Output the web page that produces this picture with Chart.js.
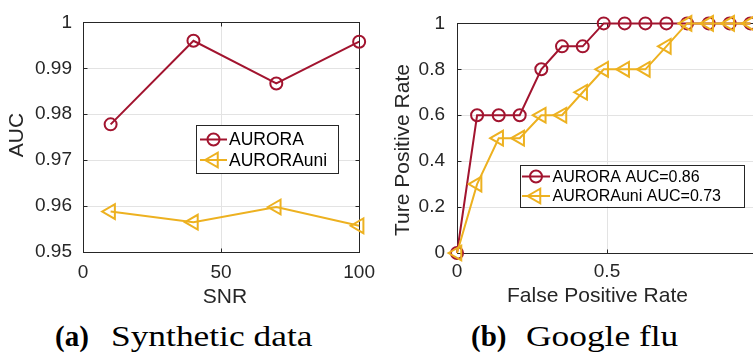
<!DOCTYPE html>
<html>
<head>
<meta charset="utf-8">
<script src="https://cdn.jsdelivr.net/npm/chart.js@4.4.0/dist/chart.umd.min.js"></script>
<style>
  html, body { margin: 0; padding: 0; width: 753px; height: 354px; overflow: hidden; background: #fff; }
  canvas { position: absolute; top: 0; }
  #chartA { left: 0; }
  #chartB { left: 380px; }
  .cap { position: absolute; top: 322px; font-family: "Liberation Serif", "Times New Roman", serif;
         font-size: 29px; line-height: 29px; color: #000; white-space: nowrap; }
  .cap.txt { transform: scaleX(1.22); transform-origin: 0 0; }
</style>
</head>
<body>
<canvas id="chartA" width="384" height="310"></canvas>
<canvas id="chartB" width="390" height="310"></canvas>
<div class="cap" style="left:55px;"><b>(a)</b></div>
<div class="cap txt" style="left:111px;">Synthetic data</div>
<div class="cap" style="left:471px;"><b>(b)</b></div>
<div class="cap txt" style="left:526px;">Google flu</div>

<script>
// (a) Synthetic data
const snr = [10, 40, 70, 100];
const aucAurora = [0.9778, 0.9960, 0.9867, 0.9958];
const aucAuroraUni = [0.9588, 0.9565, 0.9598, 0.9557];
const snrTicks = [0, 50, 100];
const aucTicks = [0.95, 0.96, 0.97, 0.98, 0.99, 1];

// (b) Google flu ROC
const fpr = [0, 0.067, 0.139, 0.209, 0.281, 0.35, 0.419, 0.489, 0.559, 0.628, 0.698, 0.767, 0.839, 0.909, 0.978];
const tprAurora = [0, 0.6, 0.6, 0.6, 0.8, 0.9, 0.9, 1, 1, 1, 1, 1, 1, 1, 1];
const tprAuroraUni = [0, 0.3, 0.5, 0.5, 0.6, 0.6, 0.7, 0.8, 0.8, 0.8, 0.9, 1, 1, 1, 1];
const fprTicks = [0, 0.5, 1];
const tprTicks = [0, 0.2, 0.4, 0.6, 0.8, 1];

const legendA = ['AURORA', 'AURORAuni'];
const legendB = ['AURORA AUC=0.86', 'AURORAuni AUC=0.73'];

const RED = '#A2142F';
const YELLOW = '#EDB120';
const AXIS = '#262626';
const GRID = '#e3e3e3';
const SANS = "'Liberation Sans', Arial, Helvetica, sans-serif";

const toPoints = (xs, ys) => xs.map((x, i) => ({ x: x, y: ys[i] }));

// matlab style box with inward ticks
const boxPlugin = {
  id: 'matBox',
  beforeDatasetsDraw(chart) {
    const { ctx, chartArea: a, scales } = chart;
    const l = Math.round(a.left) + 0.5, r = Math.round(a.right) + 0.5;
    const t = Math.round(a.top) + 0.5, b = Math.round(a.bottom) + 0.5;
    ctx.save();
    ctx.strokeStyle = AXIS;
    ctx.lineWidth = 1;
    ctx.strokeRect(l, t, r - l, b - t);
    ctx.beginPath();
    scales.x.ticks.forEach(tk => {
      const px = Math.round(scales.x.getPixelForValue(tk.value)) + 0.5;
      ctx.moveTo(px, b); ctx.lineTo(px, b - 4);
      ctx.moveTo(px, t); ctx.lineTo(px, t + 4);
    });
    scales.y.ticks.forEach(tk => {
      const py = Math.round(scales.y.getPixelForValue(tk.value)) + 0.5;
      ctx.moveTo(l, py); ctx.lineTo(l + 4, py);
      ctx.moveTo(r, py); ctx.lineTo(r - 4, py);
    });
    ctx.stroke();
    ctx.restore();
  }
};

function drawMarker(ctx, ds, x, y) {
  const opts = { pointStyle: ds.pointStyle, rotation: ds.pointRotation || 0, radius: ds.pointRadius, borderWidth: ds.pointBorderWidth };
  ctx.strokeStyle = ds.borderColor;
  ctx.fillStyle = 'rgba(0,0,0,0)';
  ctx.lineWidth = ds.pointBorderWidth;
  if (Chart.helpers && Chart.helpers.drawPoint) {
    Chart.helpers.drawPoint(ctx, opts, x, y);
    return;
  }
  ctx.beginPath();
  if (ds.pointStyle === 'circle') {
    ctx.arc(x, y, ds.pointRadius, 0, Math.PI * 2);
  } else {
    const rr = ds.pointRadius;
    ctx.moveTo(x - rr, y);
    ctx.lineTo(x + rr / 2, y - rr * 0.866);
    ctx.lineTo(x + rr / 2, y + rr * 0.866);
    ctx.closePath();
  }
  ctx.stroke();
}

// legend box inside the axes
const boxLegend = {
  id: 'boxLegend',
  afterDatasetsDraw(chart, args, o) {
    const ctx = chart.ctx;
    ctx.save();
    ctx.fillStyle = '#fff';
    ctx.fillRect(o.x, o.y, o.w, o.h);
    ctx.strokeStyle = AXIS;
    ctx.lineWidth = 1;
    ctx.strokeRect(Math.round(o.x) + 0.5, Math.round(o.y) + 0.5, Math.round(o.w), Math.round(o.h));
    o.labels.forEach((txt, i) => {
      const ds = chart.data.datasets[i];
      const y = o.rows[i];
      ctx.strokeStyle = ds.borderColor;
      ctx.lineWidth = ds.borderWidth;
      ctx.beginPath();
      ctx.moveTo(o.lineX0, y); ctx.lineTo(o.lineX1, y);
      ctx.stroke();
      drawMarker(ctx, ds, (o.lineX0 + o.lineX1) / 2, y);
      ctx.fillStyle = '#000';
      ctx.font = o.fontSize + 'px ' + SANS;
      ctx.textAlign = 'left';
      ctx.textBaseline = 'middle';
      ctx.fillText(txt, o.textX, y + 1);
    });
    ctx.restore();
  }
};

// axis titles placed where the figure has them
const axisTitles = {
  id: 'axisTitles',
  afterDraw(chart, args, o) {
    const ctx = chart.ctx;
    ctx.save();
    ctx.fillStyle = AXIS;
    ctx.font = o.fontSize + 'px ' + SANS;
    ctx.textAlign = 'center';
    ctx.textBaseline = 'middle';
    ctx.fillText(o.x.text, o.x.cx, o.x.cy);
    ctx.translate(o.y.cx, o.y.cy);
    ctx.rotate(-Math.PI / 2);
    ctx.fillText(o.y.text, 0, 0);
    ctx.restore();
  }
};

function makeScale(min, max, ticks, fit, pad) {
  return {
    type: 'linear', min: min, max: max,
    afterBuildTicks: s => { s.ticks = ticks.map(v => ({ value: v })); },
    afterFit: fit,
    ticks: { color: AXIS, font: { family: SANS, size: 19 }, padding: pad, callback: v => String(v) },
    grid: { color: GRID, lineWidth: 1, drawTicks: false },
    border: { display: false }
  };
}

function lineSet(label, pts, color, style, radius) {
  return {
    label: label, data: pts,
    borderColor: color, borderWidth: 2, backgroundColor: color,
    pointStyle: style, pointRadius: radius, pointHoverRadius: radius,
    pointRotation: style === 'triangle' ? -90 : 0,
    pointBorderColor: color, pointBackgroundColor: 'rgba(0,0,0,0)', pointBorderWidth: 2,
    tension: 0, clip: false, order: style === 'triangle' ? 0 : 1
  };
}

new Chart(document.getElementById('chartA'), {
  type: 'line',
  data: {
    datasets: [
      lineSet(legendA[0], toPoints(snr, aucAurora), RED, 'circle', 6),
      lineSet(legendA[1], toPoints(snr, aucAuroraUni), YELLOW, 'triangle', 8.5)
    ]
  },
  options: {
    responsive: false, animation: false, events: [],
    layout: { padding: { top: 15, right: 17, left: 0, bottom: 0 } },
    plugins: {
      legend: { display: false }, tooltip: { enabled: false },
      boxLegend: { x: 196, y: 125, w: 142, h: 48, rows: [139.5, 160], lineX0: 200, lineX1: 227, textX: 229, fontSize: 17.5, labels: legendA },
      axisTitles: { fontSize: 21, x: { text: 'SNR', cx: 225, cy: 297 }, y: { text: 'AUC', cx: 17, cy: 135 } }
    },
    scales: {
      x: makeScale(0, 100, snrTicks, s => { s.height = 58; }, 9),
      y: makeScale(0.95, 1, aucTicks, s => { s.width = 83; }, 11)
    }
  },
  plugins: [boxPlugin, boxLegend, axisTitles]
});

new Chart(document.getElementById('chartB'), {
  type: 'line',
  data: {
    datasets: [
      lineSet(legendB[0], toPoints(fpr, tprAurora), RED, 'circle', 6),
      lineSet(legendB[1], toPoints(fpr, tprAuroraUni), YELLOW, 'triangle', 8.5)
    ]
  },
  options: {
    responsive: false, animation: false, events: [],
    layout: { padding: { top: 19, right: 13, left: 0, bottom: 0 } },
    plugins: {
      legend: { display: false }, tooltip: { enabled: false },
      boxLegend: { x: 139.5, y: 164.5, w: 224, h: 42, rows: [176.5, 196], lineX0: 142, lineX1: 170, textX: 172.5, fontSize: 16, labels: legendB },
      axisTitles: { fontSize: 21, x: { text: 'False Positive Rate', cx: 217.5, cy: 296.5 }, y: { text: 'Ture Positive Rate', cx: 23, cy: 150 } }
    },
    scales: {
      x: makeScale(0, 1, fprTicks, s => { s.height = 57; }, 7),
      y: makeScale(0, 1, tprTicks, s => { s.width = 77; }, 12)
    }
  },
  plugins: [boxPlugin, boxLegend, axisTitles]
});
</script>
</body>
</html>
